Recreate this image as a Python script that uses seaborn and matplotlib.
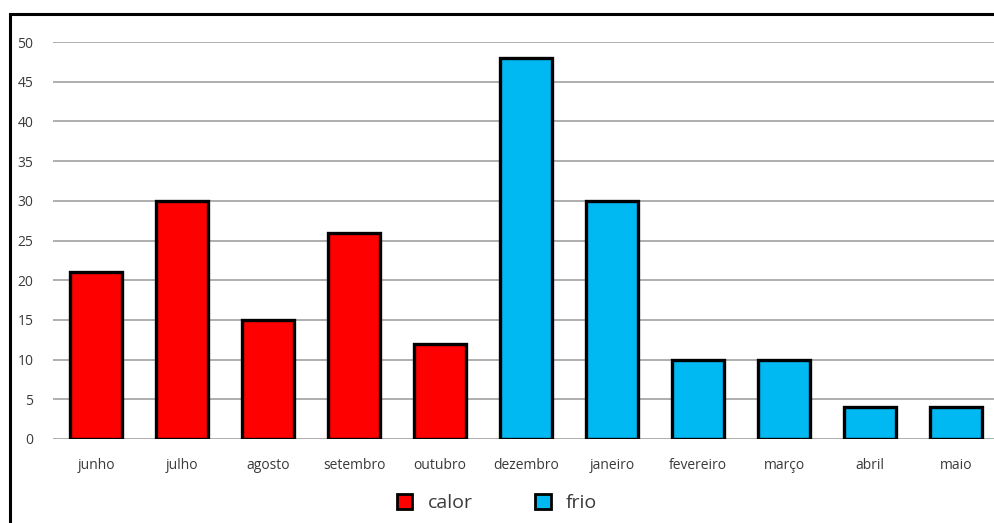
import matplotlib
matplotlib.use("Agg")
import matplotlib.pyplot as plt
import seaborn as sns
import pandas as pd
from matplotlib.patches import Rectangle, Patch

meses = ["junho", "julho", "agosto", "setembro", "outubro", "dezembro",
         "janeiro", "fevereiro", "março", "abril", "maio"]
valores = [21, 30, 15, 26, 12, 48, 30, 10, 10, 4, 4]
grupos = ["calor"] * 5 + ["frio"] * 6
cores = {"calor": "#ff0000", "frio": "#00b8f2"}
y_ticks = [0, 5, 10, 15, 20, 25, 30, 35, 40, 45, 50]

df = pd.DataFrame({"mes": meses, "valor": valores, "grupo": grupos})

sns.set_theme(style="white")
plt.rcParams["font.family"] = ["Open Sans", "DejaVu Sans"]
txt = "#3a3a3a"

fig = plt.figure(figsize=(9.95, 5.23), dpi=100)
ax = fig.add_axes([53 / 995, 84 / 523, 946 / 995, 397 / 523])

sns.barplot(data=df, x="mes", y="valor", hue="grupo", dodge=False,
            palette=cores, saturation=1, width=0.6, edgecolor="black", linewidth=2.4,
            legend=False, ax=ax, zorder=3)

ax.set_ylim(0, 50)
ax.set_xlim(-0.5, len(meses) - 0.5)
ax.set_yticks(y_ticks)
ax.yaxis.grid(True, color="#a8a8a8", linewidth=1.3, zorder=0)
ax.set_axisbelow(True)
for s in ax.spines.values():
    s.set_visible(False)
ax.set_xlabel("")
ax.set_ylabel("")
ax.tick_params(axis="both", length=0, labelsize=10, colors=txt)
ax.tick_params(axis="x", pad=14)
ax.tick_params(axis="y", pad=14)

# outer frame
fig.patches.append(Rectangle((10 / 995, -0.05), 1.2, 1 - 14 / 523 + 0.05,
                             transform=fig.transFigure, fill=False,
                             edgecolor="black", linewidth=2.2, zorder=10))

handles = [Patch(facecolor=cores["calor"], edgecolor="black", linewidth=2.0, label="calor"),
           Patch(facecolor=cores["frio"], edgecolor="black", linewidth=2.0, label="frio")]
leg = fig.legend(handles=handles, loc="center", bbox_to_anchor=(497 / 995, 1 - 503 / 523),
                 ncol=2, frameon=False, fontsize=14, handlelength=0.8, handleheight=0.8,
                 columnspacing=3.2, handletextpad=0.8)
for t in leg.get_texts():
    t.set_color(txt)

fig.savefig("out.png", dpi=100)
